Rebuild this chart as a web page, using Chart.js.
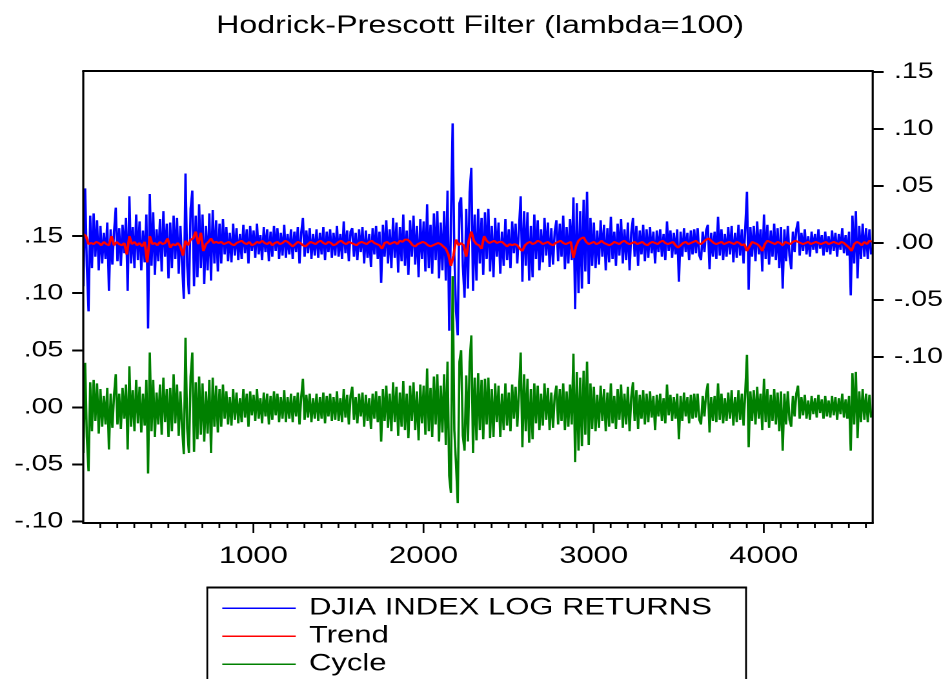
<!DOCTYPE html>
<html>
<head>
<meta charset="utf-8">
<title>Hodrick-Prescott Filter (lambda=100)</title>
<script src="https://cdn.jsdelivr.net/npm/chart.js@4/dist/chart.umd.min.js"></script>
<style>
  html, body { margin: 0; padding: 0; background: #fff; }
</style>
</head>
<body>
<!-- the drawing surface is laid out 736px wide and shown stretched to 950px -->
<canvas id="chart" width="736" height="679" style="display:block;width:950px;height:679px"></canvas>
<script>
// DJIA daily log returns, sampled every 10th observation
const returns = [
  -.038,.048,-.020,-.060,.024,-.022,.026,-.012,.020,-.024,
  .015,-.018,.009,-.014,.018,-.042,.012,-.019,.010,.031,
  -.016,.013,-.020,.016,-.009,.022,-.042,.041,-.018,.014,
  -.022,.025,-.015,.019,-.024,.011,-.017,.025,-.075,.043,
  -.020,.027,-.028,.012,-.016,.021,-.025,.028,-.012,.017,
  -.031,.018,-.022,.024,-.014,.022,-.027,.015,-.019,-.049,
  .061,-.020,-.045,.030,.046,-.038,.024,-.030,.034,-.022,
  .025,-.036,.015,-.024,.026,-.033,.029,-.018,.020,-.025,
  .017,-.018,.021,-.010,.014,-.016,.009,-.017,.017,-.011,
  .013,-.015,.008,-.014,.016,-.009,.012,-.018,.015,-.007,
  .011,-.013,.017,-.010,.007,-.015,.014,-.008,.012,-.016,
  .010,-.012,.015,-.007,.013,-.014,.009,-.011,.016,-.013,
  .008,-.010,.012,-.014,.010,-.008,.014,-.018,.009,.022,
  -.012,.011,-.009,.013,-.014,.008,-.011,.012,-.013,.009,
  -.010,.014,-.015,.010,-.008,.012,-.013,.009,-.011,.015,
  -.012,.008,-.014,.019,-.009,.011,-.016,.010,.013,-.012,
  .009,-.015,.012,-.008,.014,-.018,.011,-.013,.008,-.021,
  .013,-.010,.015,-.014,.010,-.035,.016,-.012,.020,-.018,
  .012,-.022,.022,-.013,.018,-.026,.014,-.016,.025,-.020,
  .011,-.028,.020,-.012,.024,-.019,.015,-.030,.021,-.014,
  .019,-.025,.034,-.022,.016,-.027,.026,-.015,.028,-.031,
  .018,-.024,.028,-.033,.046,-.077,.020,.105,-.010,-.060,
  -.081,.035,.040,-.020,-.048,.030,-.040,.045,.066,-.042,
  .025,-.033,.030,-.018,.022,-.028,.027,-.014,.030,-.025,
  .015,-.030,.022,-.012,.018,-.027,.010,-.020,.021,-.015,
  .012,-.022,.019,-.009,.017,-.018,.013,.041,-.034,.028,
  -.020,.027,-.033,.015,-.030,.025,-.014,.020,-.024,.012,
  -.017,.022,-.011,.018,-.021,.013,-.019,.010,.020,-.016,
  .017,-.012,.024,-.023,.014,-.018,.021,-.015,.040,-.058,
  .035,-.044,.028,-.040,.038,-.025,.045,-.036,.022,-.020,
  .018,-.022,.011,-.019,.020,-.012,.016,-.024,.013,-.017,
  .023,-.014,.010,-.020,.017,-.011,.021,-.018,.012,-.015,
  .018,-.024,.009,.022,-.012,.015,-.020,.011,-.010,.016,
  -.016,.012,-.013,.014,-.009,.010,-.018,.011,-.008,.012,
  -.012,.008,-.015,.019,-.007,.011,-.013,.009,-.010,.012,
  -.034,.010,-.012,.013,-.008,.009,-.015,.011,-.010,.012,
  -.009,.013,-.011,-.015,.010,-.008,.011,.016,-.023,.009,
  -.012,.010,-.014,.023,-.011,.012,-.015,.008,-.012,.014,
  -.010,.015,-.017,.009,-.013,.016,-.011,.012,-.018,.013,
  .045,-.041,.014,-.012,.015,-.016,.019,-.010,.012,-.025,
  .025,-.014,.016,-.019,.011,-.012,.017,-.015,.013,-.022,
  .014,-.040,.012,-.016,.015,-.011,-.023,.010,-.008,.012,
  .019,-.011,.009,-.007,.012,-.010,.006,-.012,.010,-.006,
  .008,-.009,.012,-.005,.007,-.011,.010,-.008,.006,-.010,
  .011,-.007,.009,-.012,.008,-.006,.013,-.009,.007,-.011,
  .010,-.046,.024,-.018,.028,-.031,.015,-.014,.017,-.012,
  .013,-.014,.012,-.010
];

// HP trend of the returns, sampled every 15th observation
const trend = [
  .008,.006,-.001,0,-.001,.001,0,-.002,.001,-.001,
  -.002,.006,-.002,.001,-.001,-.002,0,-.010,.006,-.001,
  .001,-.002,0,-.003,.001,-.017,.006,-.001,0,-.002,
  .001,-.001,0,.004,-.004,-.001,-.002,0,-.003,-.011,
  .002,-.002,.003,.004,.010,-.001,.009,-.007,-.001,.001,
  .004,0,.001,0,.001,-.001,0,.001,-.001,-.002,
  0,.001,.002,0,-.001,.001,-.002,-.001,.001,0,
  .002,0,-.001,.001,-.002,0,.001,-.001,0,.002,
  .001,-.001,-.003,-.001,.001,0,-.002,-.003,-.001,.001,
  0,-.001,.001,.002,0,-.001,.001,0,-.002,-.001,
  .001,.002,0,-.001,.001,0,-.001,-.002,0,.001,
  0,-.001,.001,.002,0,-.001,-.002,-.005,0,.001,
  -.001,0,.001,-.001,.002,.001,.003,.003,.001,-.002,
  -.003,-.001,0,.001,0,-.002,-.003,-.002,-.001,0,
  -.001,-.003,-.005,-.010,-.020,-.011,.003,-.002,0,-.002,
  -.012,.002,.010,.002,-.001,-.002,-.005,.006,.002,0,
  .001,.002,0,.001,.001,-.001,-.003,-.001,-.002,-.001,
  -.002,-.005,-.007,-.002,0,.001,-.001,0,.002,.001,
  -.001,0,.001,-.001,-.002,0,.001,.002,0,-.001,
  0,.001,-.013,-.003,.002,.004,.005,.001,-.001,0,
  .001,-.001,0,.002,0,-.001,-.002,-.001,.001,0,
  -.001,.001,.002,0,-.001,0,.001,-.001,0,.001,
  -.001,-.002,0,.001,0,-.001,.001,.002,0,-.001,
  0,.001,-.002,-.004,-.002,0,.001,-.001,0,.001,
  .002,0,-.001,.001,.003,.004,.002,0,-.001,0,
  .001,-.001,0,.001,0,-.001,.001,0,-.002,-.001,
  -.007,-.003,.001,0,-.001,-.003,-.007,-.001,.002,.001,
  0,-.001,.001,0,-.002,.001,0,-.001,.001,.002,
  .001,0,-.001,0,.001,-.001,0,.001,0,-.001,
  0,.001,-.001,0,.001,0,-.001,.001,0,-.002,
  -.004,-.007,-.001,.001,0,-.002,.001,-.001,.002,.001
];

// HP cycle (returns minus trend), sampled every 10th observation
const cycle = [
  -.040,.039,-.026,-.056,.022,-.021,.024,-.012,.021,-.023,
  .016,-.017,.010,-.015,.017,-.037,.012,-.018,.011,.029,
  -.015,.012,-.019,.017,-.010,.020,-.037,.036,-.017,.015,
  -.021,.024,-.014,.018,-.022,.012,-.016,.024,-.058,.048,
  -.021,.024,-.026,.013,-.015,.020,-.024,.026,-.013,.016,
  -.026,.017,-.021,.029,-.014,.020,-.025,.014,-.018,-.041,
  .061,-.019,-.040,.027,.048,-.039,.022,-.028,.027,-.024,
  .021,-.030,.014,-.023,.024,-.040,.026,-.017,.019,-.022,
  .016,-.017,.020,-.010,.014,-.015,.009,-.016,.016,-.011,
  .013,-.014,.008,-.013,.016,-.009,.012,-.017,.014,-.007,
  .011,-.012,.016,-.010,.008,-.014,.013,-.008,.012,-.015,
  .010,-.011,.014,-.007,.012,-.013,.009,-.010,.015,-.013,
  .009,-.010,.012,-.013,.010,-.008,.013,-.015,.009,.025,
  -.011,.011,-.009,.012,-.013,.008,-.010,.012,-.012,.009,
  -.010,.013,-.014,.010,-.008,.012,-.012,.009,-.011,.014,
  -.012,.008,-.013,.016,-.009,.011,-.015,.010,.018,-.011,
  .009,-.014,.012,-.008,.013,-.017,.011,-.012,.008,-.019,
  .012,-.010,.014,-.013,.010,-.030,.016,-.012,.019,-.018,
  .012,-.021,.022,-.013,.018,-.025,.013,-.017,.023,-.020,
  .012,-.027,.019,-.012,.022,-.020,.014,-.029,.020,-.014,
  .019,-.024,.034,-.021,.017,-.026,.027,-.015,.029,-.030,
  .019,-.022,.029,-.033,.040,-.060,-.075,.115,-.020,-.050,
  -.084,.040,.050,-.025,-.038,.028,-.030,.040,.063,-.040,
  .026,-.029,.030,-.020,.024,-.028,.025,-.015,.026,-.027,
  .016,-.026,.021,-.013,.019,-.026,.012,-.020,.021,-.016,
  .013,-.021,.020,-.010,.018,-.017,.014,.048,-.035,.029,
  -.021,.025,-.031,.016,-.028,.021,-.014,.019,-.020,.012,
  -.016,.021,-.011,.017,-.020,.013,-.018,.010,.019,-.015,
  .016,-.012,.021,-.020,.014,-.017,.020,-.015,.047,-.048,
  .031,-.038,.026,-.034,.032,-.024,.040,-.033,.021,-.019,
  .018,-.021,.011,-.018,.019,-.012,.016,-.021,.013,-.017,
  .021,-.014,.010,-.019,.016,-.011,.020,-.018,.012,-.015,
  .018,-.021,.009,.022,-.012,.015,-.019,.011,-.010,.015,
  -.015,.012,-.013,.014,-.009,.010,-.020,.011,-.008,.012,
  -.012,.008,-.014,.020,-.007,.011,-.012,.009,-.010,.012,
  -.028,.010,-.012,.013,-.008,.009,-.014,.011,-.010,.012,
  -.009,.012,-.011,-.015,.010,-.008,.012,.021,-.022,.009,
  -.012,.010,-.013,.021,-.011,.012,-.014,.008,-.012,.013,
  -.010,.015,-.016,.009,-.013,.015,-.011,.012,-.016,.013,
  .046,-.035,.014,-.012,.015,-.015,.018,-.010,.012,-.020,
  .025,-.013,.016,-.018,.011,-.012,.016,-.015,.013,-.021,
  .014,-.038,.012,-.015,.014,-.011,-.017,.010,-.008,.012,
  .019,-.010,.009,-.007,.011,-.010,.006,-.011,.010,-.006,
  .008,-.009,.011,-.005,.007,-.010,.010,-.008,.006,-.009,
  .010,-.007,.009,-.011,.008,-.006,.012,-.009,.007,-.010,
  .010,-.038,.030,-.015,.031,-.027,.014,-.013,.016,-.011,
  .012,-.013,.011,-.009
];

// observation numbers of the sampled points
const returnsStep = 10, trendStep = 15;
const returnsObs = returns.map((_, i) => 1 + i * returnsStep);
const trendObs = trend.map((_, i) => 1 + i * trendStep);

const leftTicks = [-0.10, -0.05, 0, 0.05, 0.10, 0.15];
const rightTicks = [-0.10, -0.05, 0, 0.05, 0.10, 0.15];
const xTicks = [1000, 2000, 3000, 4000];
const seriesNames = ['DJIA INDEX LOG RETURNS', 'Trend', 'Cycle'];
const seriesColors = ['#0000ff', '#ff0000', '#008000'];
const titleText = 'Hodrick-Prescott Filter (lambda=100)';

const FONT = "'Liberation Sans', Arial, Helvetica, sans-serif";

const toPoints = (xs, ys) => ys.map((y, i) => ({ x: xs[i], y }));

// ".15", "-.10", ".00" style labels
function decLabel(v) {
  const s = Math.abs(v).toFixed(2).replace(/^0/, '');
  return (v < -1e-9 ? '-' : '') + s;
}

// box around the plot plus minor / major ticks on the observation axis
const frameAndTicks = {
  id: 'frameAndTicks',
  afterDatasetsDraw(chart) {
    const { ctx, chartArea: a } = chart;
    const x = chart.scales.x;
    ctx.save();
    ctx.strokeStyle = '#000';
    ctx.lineWidth = 2;
    ctx.beginPath();
    ctx.moveTo(a.left - 0.8, a.top); ctx.lineTo(a.right + 0.8, a.top);
    ctx.moveTo(a.left - 0.8, a.bottom); ctx.lineTo(a.right + 0.8, a.bottom);
    ctx.stroke();
    ctx.lineWidth = 1.6;
    ctx.beginPath();
    ctx.moveTo(a.left, a.top); ctx.lineTo(a.left, a.bottom);
    ctx.moveTo(a.right, a.top); ctx.lineTo(a.right, a.bottom);
    ctx.stroke();
    ctx.lineWidth = 1.4;
    ctx.beginPath();
    for (let v = 100; v <= x.max; v += 100) {
      const px = x.getPixelForValue(v);
      const len = v % 1000 === 0 ? 10 : 5;
      ctx.moveTo(px, a.bottom); ctx.lineTo(px, a.bottom + len);
    }
    ctx.stroke();
    ctx.restore();
  }
};

// boxed legend under the plot, one series per row
const boxedLegend = {
  id: 'boxedLegend',
  afterDraw(chart) {
    const { ctx } = chart;
    const left = 160.6, right = 578, top = 587.5, below = chart.height + 4;
    ctx.save();
    ctx.strokeStyle = '#000';
    ctx.lineWidth = 2;
    ctx.beginPath();
    ctx.moveTo(left - 0.7, top); ctx.lineTo(right + 0.7, top);
    ctx.stroke();
    ctx.lineWidth = 1.4;
    ctx.beginPath();
    ctx.moveTo(left, top); ctx.lineTo(left, below);
    ctx.moveTo(right, top); ctx.lineTo(right, below);
    ctx.stroke();
    ctx.font = '24px ' + FONT;
    ctx.textBaseline = 'middle';
    ctx.textAlign = 'left';
    chart.data.datasets.forEach((ds, i) => {
      const y = 608.3 + i * 28;
      ctx.strokeStyle = ds.borderColor;
      ctx.lineWidth = 1.5;
      ctx.beginPath();
      ctx.moveTo(172.2, y); ctx.lineTo(229.1, y);
      ctx.stroke();
      ctx.fillStyle = '#000';
      ctx.fillText(ds.label, 239.4, y - 0.5);
    });
    ctx.restore();
  }
};

function yAxis(position, min, max, ticks, width, pad) {
  return {
    type: 'linear',
    position,
    min, max,
    afterBuildTicks: s => { s.ticks = ticks.map(v => ({ value: v })); },
    afterFit: s => { s.width = width; },
    grid: { display: true, drawOnChartArea: false, drawTicks: true, tickLength: 8.5,
            tickColor: '#000', tickWidth: 2, color: '#000' },
    border: { display: false },
    ticks: { padding: pad, color: '#000', font: { family: FONT, size: 22 }, callback: decLabel }
  };
}

new Chart(document.getElementById('chart'), {
  type: 'line',
  data: {
    datasets: [
      { label: seriesNames[0], data: toPoints(returnsObs, returns), yAxisID: 'yR',
        borderColor: seriesColors[0], borderWidth: 1.8, order: 3 },
      { label: seriesNames[1], data: toPoints(trendObs, trend), yAxisID: 'yR',
        borderColor: seriesColors[1], borderWidth: 2, order: 2 },
      { label: seriesNames[2], data: toPoints(returnsObs, cycle), yAxisID: 'yL',
        borderColor: seriesColors[2], borderWidth: 1.8, order: 1 }
    ]
  },
  options: {
    responsive: false,
    devicePixelRatio: 2,
    animation: false,
    events: [],
    layout: { padding: { left: 7.8, right: 0, top: 0, bottom: 106 } },
    elements: {
      point: { radius: 0 },
      line: { tension: 0, borderJoinStyle: 'bevel', fill: false }
    },
    plugins: {
      legend: { display: false },
      tooltip: { enabled: false },
      title: {
        display: true, text: titleText, color: '#000',
        font: { family: FONT, size: 25, weight: 'normal', lineHeight: 1.2 },
        padding: { top: 11, bottom: 30 }
      }
    },
    scales: {
      x: {
        type: 'linear', min: 0, max: 4640,
        grid: { display: false }, border: { display: false },
        afterBuildTicks: s => { s.ticks = xTicks.map(v => ({ value: v })); },
        afterFit: s => { s.height = 50; },
        ticks: { autoSkip: false, maxRotation: 0, padding: 11, color: '#000',
                 font: { family: FONT, size: 24 }, callback: v => String(v) }
      },
      yL: yAxis('left', -0.1014, 0.2948, leftTicks, 56.7, 7),
      yR: yAxis('right', -0.2458, 0.1510, rightTicks, 59.9, 8)
    }
  },
  plugins: [frameAndTicks, boxedLegend]
});
</script>
</body>
</html>
